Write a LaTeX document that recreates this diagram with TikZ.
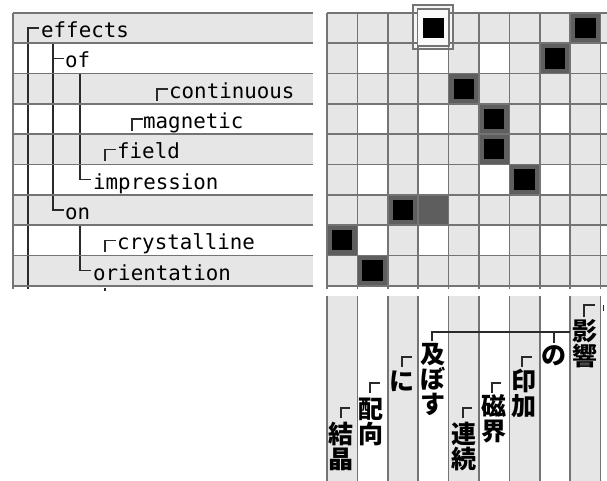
\documentclass[tikz,border=0pt]{standalone}
\usepackage{fontspec}
\newfontfamily\jpfont{Noto Sans CJK JP}
\newfontfamily\monofont{DejaVu Sans Mono}
\definecolor{lightcell}{HTML}{E6E6E6}
\definecolor{darkcell}{HTML}{5E5E5E}
\definecolor{gridline}{HTML}{747474}
\definecolor{inkline}{HTML}{2A2A2A}
\begin{document}
\begin{tikzpicture}[x=1pt,y=-1pt,
  gridln/.style={draw=gridline,line width=1.6},
  treeln/.style={draw=inkline,line width=1.6},
  wordlabel/.style={anchor=base west,inner sep=0,font=\monofont\fontsize{20.8}{24}\selectfont},
  jlabel/.style={anchor=north,inner sep=0,align=center,font=\jpfont\bfseries\fontsize{25}{25}\selectfont}]
\useasboundingbox (0,0) rectangle (607,481);
\fill[white] (0,0) rectangle (607,481);

% ---------- left table ----------
\foreach \r in {1,3,5,7,9} \fill[lightcell] (13,{13+30.3*(\r-1)}) rectangle (313,{13+30.3*\r});
% tree lines
\draw[treeln] (39,28.2) -- (28,28.2) -- (28,289);
\draw[treeln] (53,44) -- (53,210) -- (64,210);
\draw[treeln] (53,58.5) -- (64,58.5);
\draw[treeln] (80,73) -- (80,179.7) -- (91,179.7);
\draw[treeln] (80,224) -- (80,270.5) -- (91,270.5);
\draw[treeln] (168,88.8) -- (157,88.8) -- (157,101);
\draw[treeln] (143,119) -- (132,119) -- (132,131);
\draw[treeln] (116,149.4) -- (105,149.4) -- (105,161);
\draw[treeln] (116,240.3) -- (105,240.3) -- (105,252);
\draw[treeln] (105,288) -- (105,291);
\foreach \r in {0,...,9} \draw[gridln] (13,{13+30.3*\r}) -- (313,{13+30.3*\r});
\draw[gridln] (13,13) -- (13,289);

\node[wordlabel] (weffects) at (41,37.6) {effects};
\node[wordlabel] (wof) at (65,68) {of};
\node[wordlabel] (wcontinuous) at (169,98.2) {continuous};
\node[wordlabel] (wmagnetic) at (143,128.5) {magnetic};
\node[wordlabel] (wfield) at (117,158.8) {field};
\node[wordlabel] (wimpression) at (93,189.1) {impression};
\node[wordlabel] (won) at (65,219.4) {on};
\node[wordlabel] (wcrystalline) at (117,249.7) {crystalline};
\node[wordlabel] (worientation) at (93,280) {orientation};

% ---------- matrix ----------
\begin{scope}
\clip (326,0) rectangle (607,481);
\fill[lightcell] (327,13) rectangle (607,285.7);
\foreach \r in {2,4,6,8} \foreach \c in {2,4,6,8,10}
  \fill[white] ({327+30.4*(\c-1)},{13+30.3*(\r-1)}) rectangle ++(30.4,30.3);
\foreach \c/\r in {9/1,8/2,5/3,6/4,6/5,7/6,3/7,4/7,1/8,2/9}
  \fill[darkcell] ({327+30.4*(\c-1)},{13+30.3*(\r-1)}) rectangle ++(30.4,30.3);
% special framed cell
\fill[white!96!black] (413,5) rectangle (453,49);
\foreach \r in {0,...,9} \draw[gridln] (327,{13+30.3*\r}) -- (607,{13+30.3*\r});
\foreach \c in {0,...,9} \draw[gridln] ({327+30.4*\c},13) -- ({327+30.4*\c},289);
\fill[white!98!black] (417.5,9) rectangle (448.9,46);
\draw[gridln,line width=1.3] (413,5) rectangle (453,49);
\draw[gridln,line width=1.3] (417.5,9) rectangle (448.9,46);
\foreach \c/\r in {9/1,8/2,5/3,6/4,6/5,7/6,3/7,1/8,2/9,4/1}
  \fill[black] ({327+30.4*(\c-1)+5},{13+30.3*(\r-1)+5}) rectangle ++(20.4,20.3);
% bottom strips
\foreach \c in {1,3,5,7,9} \fill[lightcell] ({327+30.4*(\c-1)},296) rectangle ++(30.4,185);
\foreach \c in {0,...,9} \draw[gridln] ({327+30.4*\c},296) -- ({327+30.4*\c},481);
\end{scope}

% ---------- Japanese dependency labels ----------
\draw[treeln] (432,341) -- (432,332) -- (570,332);
\draw[treeln] (554,332) -- (554,343);
\draw[treeln] (341,418) -- (341,408) -- (350,408);
\draw[treeln] (370,393) -- (370,383) -- (380,383);
\draw[treeln] (402,367) -- (402,357) -- (412,357);
\draw[treeln] (463,418) -- (463,408) -- (472,408);
\draw[treeln] (492,393) -- (492,383) -- (501,383);
\draw[treeln] (522,367) -- (522,357) -- (532,357);
\draw[treeln] (584,317) -- (584,305) -- (595,305);
\draw[treeln] (603.5,305) -- (603.5,311);

\node[jlabel] (jkessho) at (341,422) {結\\晶};
\node[jlabel] (jhaiko) at (371,398) {配\\向};
\node[jlabel] (jni) at (402,371) {に};
\node[jlabel] (joyobosu) at (433,343) {及\\ぼ\\す};
\node[jlabel] (jrenzoku) at (464,422) {連\\続};
\node[jlabel] (jjikai) at (494,394) {磁\\界};
\node[jlabel] (jinka) at (524,369) {印\\加};
\node[jlabel] (jno) at (554,345) {の};
\node[jlabel] (jeikyo) at (585,319) {影\\響};
\end{tikzpicture}
\end{document}
